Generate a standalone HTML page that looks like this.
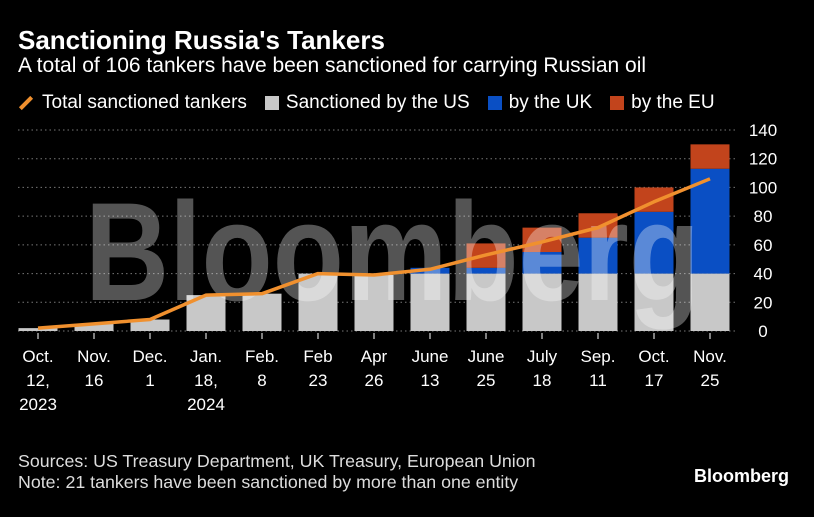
<!DOCTYPE html>
<html><head><meta charset="utf-8"><style>
body{margin:0;background:#000;width:814px;height:517px;overflow:hidden;font-family:"Liberation Sans",sans-serif;color:#fff}
.t{position:absolute;white-space:nowrap}
</style></head><body>
<div class="t" style="left:18px;top:25px;font-size:26px;font-weight:bold">Sanctioning Russia's Tankers</div>
<div class="t" style="left:18px;top:54px;font-size:21px">A total of 106 tankers have been sanctioned for carrying Russian oil</div>
<div class="t" style="left:18px;top:92px;font-size:19px;display:flex;align-items:center">
<span style="display:inline-block;width:16px;height:4px;background:#f0902e;transform:rotate(-45deg);margin-right:8px"></span>Total sanctioned tankers
<span style="display:inline-block;width:14px;height:14px;background:#c8c8c8;margin:0 7px 0 18px"></span>Sanctioned by the US
<span style="display:inline-block;width:14px;height:14px;background:#0a4fc4;margin:0 7px 0 18px"></span>by the UK
<span style="display:inline-block;width:14px;height:14px;background:#c2441c;margin:0 7px 0 18px"></span>by the EU</div>
<svg id="c" width="814" height="517" style="position:absolute;left:0;top:0"></svg>
<div class="t" style="left:18px;top:451px;font-size:17.8px;line-height:21px;color:#ddd">Sources: US Treasury Department, UK Treasury, European Union<br>Note: 21 tankers have been sanctioned by more than one entity</div>
<div class="t" style="left:694px;top:466px;font-size:18px;font-weight:bold">Bloomberg</div>
<script>
const categories=[["Oct.","12,","2023"],["Nov.","16"],["Dec.","1"],["Jan.","18,","2024"],["Feb.","8"],["Feb","23"],["Apr","26"],["June","13"],["June","25"],["July","18"],["Sep.","11"],["Oct.","17"],["Nov.","25"]];
const usValues=[2,5,8,25,26,40,39,40,40,40,40,40,40];
const ukValues=[0,0,0,0,0,0,0,4,4,15,25,43,73];
const euValues=[0,0,0,0,0,0,0,0,17,17,17,17,17];
const totalValues=[2,5,8,25,26,40,39,43,53,62,72,90,106];
const yTicks=[0,20,40,60,80,100,120,140];
const NS="http://www.w3.org/2000/svg",svg=document.getElementById('c');
const y=v=>331-v*(201/140), x=i=>38+i*56, bw=39;
function mk(t,a){const e=document.createElementNS(NS,t);for(const k in a)e.setAttribute(k,a[k]);svg.appendChild(e);return e;}
yTicks.forEach(v=>{
const g=mk('line',{x1:18,x2:738,y1:y(v),y2:y(v),stroke:'#777','stroke-dasharray':'1.5 3'});


const t=mk('text',{x:763,y:y(v)+6,fill:'#fff','font-size':17,'text-anchor':'middle'});t.textContent=v;


});
categories.forEach((c,i)=>{
const layers=[[usValues[i],'#c8c8c8'],[ukValues[i],'#0a4fc4'],[euValues[i],'#c2441c']];let b=0;
layers.forEach(([v,col],k)=>{if(v>0){const r=mk('rect',{x:x(i)-bw/2,y:y(b+v),width:bw,height:y(b)-y(b+v),fill:col});

}b+=v;});
const tk=mk('line',{x1:x(i),x2:x(i),y1:333,y2:339,stroke:'#fff'});


c.forEach((s,j)=>{const t=mk('text',{x:x(i),y:362+j*24,fill:'#fff','font-size':17,'text-anchor':'middle'});t.textContent=s;

});
});
const wm=mk('text',{x:85,y:300,fill:'#fff','fill-opacity':0.33,'font-size':140,'font-weight':'bold',textLength:615,lengthAdjust:'spacingAndGlyphs','font-family':'Liberation Sans'});wm.textContent='Bloomberg';


const ln=mk('polyline',{points:totalValues.map((v,i)=>x(i)+','+y(v)).join(' '),fill:'none',stroke:'#f0902e','stroke-width':3.5,'stroke-linejoin':'round'});


</script>
</body></html>
